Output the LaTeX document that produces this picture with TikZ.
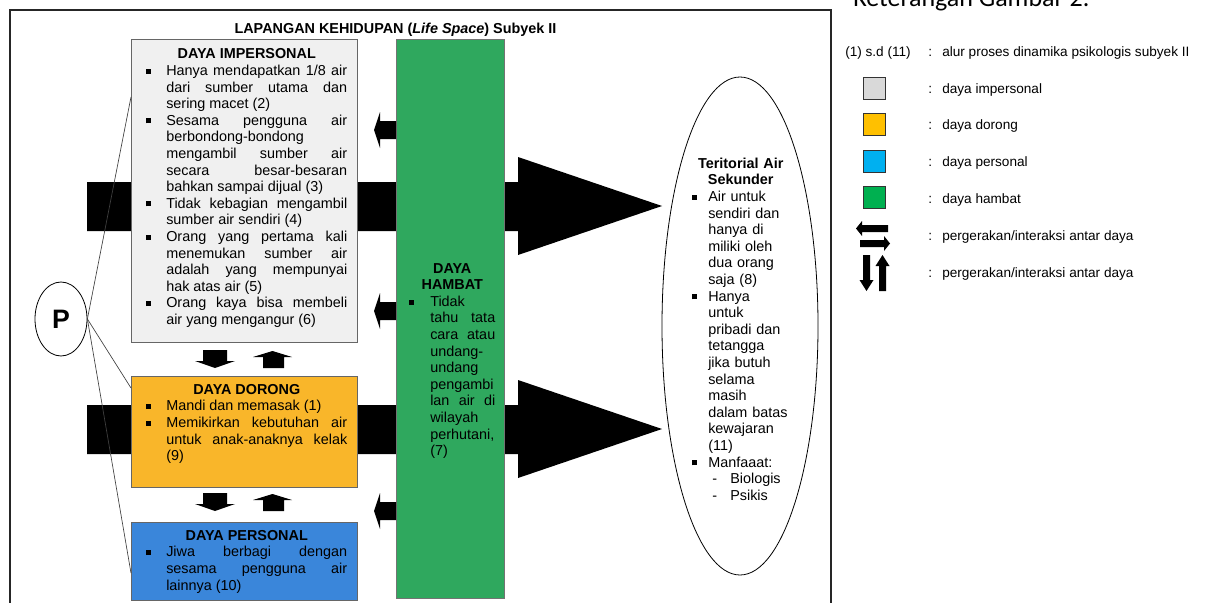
\documentclass[tikz,border=0pt]{standalone}
\usepackage{fontspec}
\setmainfont{Liberation Sans}
\newfontfamily\judulfont{Carlito}
\usepackage{xcolor}
\usetikzlibrary{shapes.geometric,fit}
\definecolor{abu}{RGB}{240,240,240}
\definecolor{oranye}{RGB}{249,182,42}
\definecolor{biru}{RGB}{58,134,218}
\definecolor{hijau}{RGB}{47,168,94}
\definecolor{legabu}{RGB}{217,217,217}
\definecolor{legkuning}{RGB}{255,192,0}
\definecolor{legbiru}{RGB}{0,176,240}
\definecolor{leghijau}{RGB}{0,176,80}
\newcommand{\isi}{%
    \fontsize{10.8}{12.45}\selectfont\parindent=0pt\tolerance=10000\hbadness=10000%
    \hyphenpenalty=10000\exhyphenpenalty=10000
}
\newcommand{\butir}[1][15pt]{%
    \par\hangindent=#1\hangafter=1\noindent\makebox[#1][l]{\rule[1.3pt]{3.8pt}{3.8pt}}\ignorespaces
}
\newcommand{\strip}{%
    \par\noindent\hspace*{15pt}\makebox[13.5pt][l]{-}\ignorespaces
}

\begin{document}
\begin{tikzpicture}[x=0.75pt,y=0.75pt,yscale=-1,xscale=1,
    kotak/.style={draw=black!60, line width=0.6pt, inner sep=0pt},
    teks/.style={anchor=north west, inner sep=0pt, align=justify, font=\isi},
    garis/.style={draw=black!75, line width=0.5pt},
    legenda/.style={anchor=base west, inner sep=0pt, font=\fontsize{10.2}{12}\selectfont},
    kotakket/.style={draw=black!80, line width=0.75pt, minimum width=17pt, minimum height=16.5pt, inner sep=0pt}]
    \useasboundingbox (0,0) rectangle (1206,603);

    % bingkai lapangan kehidupan
    \draw [line width=0.9pt, black!85] (10,610) -- (10,10) -- (831,10) -- (831,610);

    % panah besar (di belakang kotak)
    \fill (87,182) -- (518,182) -- (518,157) -- (662,206) -- (518,255) -- (518,231) -- (87,231) -- cycle;
    \fill (87,405) -- (518,405) -- (518,380) -- (662,429) -- (518,478) -- (518,454) -- (87,454) -- cycle;

    % kotak daya
    \node [kotak, fill=abu, fit={(131,39) (357,342)}] (impersonal) {};
    \node [kotak, fill=oranye, fit={(131,376) (357,487)}] (dorong) {};
    \node [kotak, fill=biru, fit={(131,522) (357,600)}] (personal) {};
    \node [kotak, draw=black!55, fill=hijau, fit={(396,39) (504,598)}] (hambat) {};
    \node [ellipse, draw, line width=0.6pt, minimum width=117pt, minimum height=373.5pt, inner sep=0pt] (teritorial) at (740,326) {};

    % panah kecil antar daya
    \fill (203,350) -- (227,350) -- (227,361) -- (235,361) -- (215,368) -- (195,361) -- (203,361) -- cycle;
    \fill (263,368) -- (263,357) -- (253,357) -- (272.5,351) -- (292,357) -- (284,357) -- (284,368) -- cycle;
    \fill (203,493) -- (227,493) -- (227,504) -- (235,504) -- (215,511) -- (195,504) -- (203,504) -- cycle;
    \fill (263,511) -- (263,500) -- (253,500) -- (272.5,494) -- (292,500) -- (284,500) -- (284,511) -- cycle;
    \fill (396,121) -- (380,121) -- (380,112) -- (374,130) -- (380,148) -- (380,139) -- (396,139) -- cycle;
    \fill (396,302) -- (380,302) -- (380,293) -- (374,311) -- (380,329) -- (380,320) -- (396,320) -- cycle;
    \fill (396,502) -- (380,502) -- (380,493) -- (374,511) -- (380,529) -- (380,520) -- (396,520) -- cycle;

    % P dan garisnya
    \node [ellipse, draw, line width=0.6pt, minimum width=39pt, minimum height=55.5pt, inner sep=0pt, font=\fontsize{20}{24}\selectfont\bfseries] (P) at (61,319) {P};
    \coordinate (ujung1) at (131,97);
    \coordinate (ujung2) at (131,388);
    \coordinate (ujung3) at (131,573);
    \draw [garis] (P.east) -- (ujung1);
    \draw [garis] (P.east) -- (ujung2);
    \draw [garis] (P.east) -- (ujung3);

    % Text Node
    \node [anchor=base, inner sep=0pt, font=\isi\bfseries] (judul) at (395.5,33) {LAPANGAN KEHIDUPAN (\textit{Life Space}) Subyek II};
    % Text Node
    \node [teks, text width=150.75pt] (impersonalteks) at (146,48.5) {{\centering\bfseries DAYA IMPERSONAL\par}
        \butir Hanya mendapatkan 1/8 air\linebreak dari sumber utama dan\linebreak sering macet (2)
        \butir Sesama pengguna air\linebreak berbondong-bondong\linebreak mengambil sumber air\linebreak secara besar-besaran\linebreak bahkan sampai dijual (3)
        \butir Tidak kebagian mengambil\linebreak sumber air sendiri (4)
        \butir Orang yang pertama kali\linebreak menemukan sumber air\linebreak adalah yang mempunyai\linebreak hak atas air (5)
        \butir Orang kaya bisa membeli\linebreak air yang mengangur (6)\par};
    % Text Node
    \node [teks, text width=150.75pt] (dorongteks) at (146,384) {{\centering\bfseries DAYA DORONG\par}
        \butir Mandi dan memasak (1)
        \butir Memikirkan kebutuhan air\linebreak untuk anak-anaknya kelak\linebreak (9)\par};
    % Text Node
    \node [teks, text width=150.75pt] (personalteks) at (146,530) {{\centering\bfseries DAYA PERSONAL\par}
        \butir Jiwa berbagi dengan\linebreak sesama pengguna air\linebreak lainnya (10)\par};
    % Text Node
    \node [teks, text width=64.5pt] (hambatteks) at (409,263) {{\centering\bfseries DAYA\\HAMBAT\par}
        \butir[15.75pt] Tidak\linebreak tahu tata\linebreak cara atau\linebreak undang-\linebreak undang\linebreak pengambi\linebreak lan air di\linebreak wilayah\linebreak perhutani,\linebreak (7)\par};
    % Text Node
    \node [teks, align=left, text width=72.75pt] (teritorialteks) at (692,157.5) {{\centering\bfseries Teritorial Air\\Sekunder\par}
        \butir[12pt] Air untuk\newline sendiri dan\newline hanya di\newline miliki oleh\newline dua orang\newline saja (8)
        \butir[12pt] Hanya\newline untuk\newline pribadi dan\newline tetangga\newline jika butuh\newline selama\newline masih\newline dalam batas\newline kewajaran\newline (11)
        \butir[12pt] Manfaaat:
        \strip Biologis
        \strip Psikis\par};

    % keterangan
    \node [anchor=base west, inner sep=0pt, font=\judulfont\fontsize{19.5}{22}\selectfont] (keterangan) at (853,7) {Keterangan Gambar 2.};
    \node [legenda] (ket1) at (845,56.5) {(1) s.d (11)};
    \node [legenda] (ket1isi) at (928,56.5) {\makebox[10.5pt][l]{:}alur proses dinamika psikologis subyek II};
    \node [kotakket, fill=legabu] (kabu) at (874.5,88) {};
    \node [legenda] (ket2isi) at (928,93) {\makebox[10.5pt][l]{:}daya impersonal};
    \node [kotakket, fill=legkuning] (kkuning) at (874.5,124.5) {};
    \node [legenda] (ket3isi) at (928,129.5) {\makebox[10.5pt][l]{:}daya dorong};
    \node [kotakket, fill=legbiru] (kbiru) at (874.5,161) {};
    \node [legenda] (ket4isi) at (928,166) {\makebox[10.5pt][l]{:}daya personal};
    \node [kotakket, fill=leghijau] (khijau) at (874.5,197.5) {};
    \node [legenda] (ket5isi) at (928,203) {\makebox[10.5pt][l]{:}daya hambat};
    \fill (888,225) -- (862,225) -- (862,221) -- (856,228.5) -- (862,236) -- (862,232) -- (888,232) -- cycle;
    \fill (860,240) -- (884,240) -- (884,236) -- (890,243.5) -- (884,251) -- (884,247) -- (860,247) -- cycle;
    \node [legenda] (ket6isi) at (928,240.5) {\makebox[10.5pt][l]{:}pergerakan/interaksi antar daya};
    \fill (863,255) -- (870,255) -- (870,280) -- (873.5,280) -- (866.5,291) -- (859.5,280) -- (863,280) -- cycle;
    \fill (879,291) -- (886,291) -- (886,266) -- (889.5,266) -- (882.5,255) -- (875.5,266) -- (879,266) -- cycle;
    \node [legenda] (ket7isi) at (928,277.5) {\makebox[10.5pt][l]{:}pergerakan/interaksi antar daya};
\end{tikzpicture}
\end{document}
